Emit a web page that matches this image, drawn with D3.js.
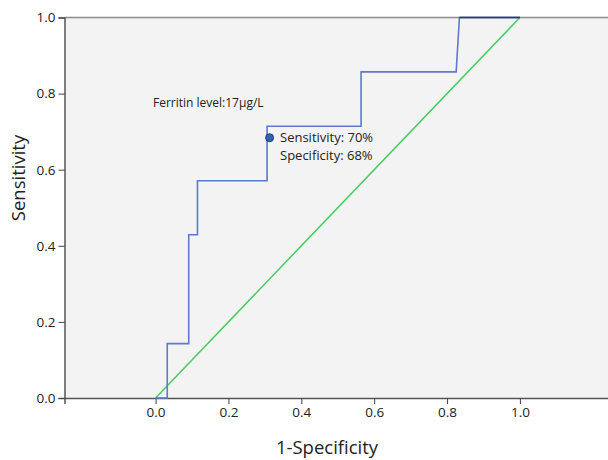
<!DOCTYPE html>
<html>
<head>
<meta charset="utf-8">
<script src="https://cdn.jsdelivr.net/npm/d3@7"></script>
<style>
  body { margin: 0; background: #fff; }
  svg { display: block; }
</style>
</head>
<body>
<svg id="chart" width="608" height="460"></svg>
<script>
// ROC curve points (1-specificity, sensitivity)
var rocX = [0, 0.032, 0.032, 0.091, 0.091, 0.115, 0.115, 0.306, 0.306, 0.564, 0.564, 0.825, 0.834, 1.0];
var rocY = [0, 0, 0.143, 0.143, 0.429, 0.429, 0.571, 0.571, 0.714, 0.714, 0.857, 0.857, 1.0, 1.0];
var refX = [0, 1];
var refY = [0, 1];
var cutX = [0.313];
var cutY = [0.684];
var xTicks = [0.0, 0.2, 0.4, 0.6, 0.8, 1.0];
var yTicks = [0.0, 0.2, 0.4, 0.6, 0.8, 1.0];
var cutLabel = "Ferritin level:17\u03bcg/L";
var cutStats = ["Sensitivity: 70%", "Specificity: 68%"];

var svg = d3.select("#chart");
var font = "'Open Sans', 'Noto Sans', sans-serif";

var x = d3.scaleLinear().domain([-0.25, 1.25]).range([64.5, 611]);
var y = d3.scaleLinear().domain([0, 1]).range([398, 17.5]);

// plot background
svg.append("rect")
  .attr("x", x(-0.25)).attr("y", y(1))
  .attr("width", x(1.25) - x(-0.25)).attr("height", y(0) - y(1))
  .attr("fill", "#f3f3f3");

// frame line on top
svg.append("line")
  .attr("x1", x(-0.25)).attr("x2", 608).attr("y1", y(1)).attr("y2", y(1))
  .attr("stroke", "#8c8c8c").attr("stroke-width", 1.5);

var xAxis = svg.append("g")
  .attr("transform", "translate(0," + y(0) + ")")
  .call(d3.axisBottom(x).tickValues(xTicks).tickFormat(d3.format(".1f")).tickSize(6).tickPadding(3));
var yAxis = svg.append("g")
  .attr("transform", "translate(" + x(-0.25) + ",0)")
  .call(d3.axisLeft(y).tickValues(yTicks).tickFormat(d3.format(".1f")).tickSize(6).tickPadding(3));

[xAxis, yAxis].forEach(function (g) {
  g.select(".domain").attr("stroke", "#555").attr("stroke-width", 1.5);
  g.selectAll(".tick line").attr("stroke", "#444");
  g.selectAll(".tick text")
    .attr("fill", "#222")
    .style("font-family", font)
    .style("font-size", "13.5px");
});

// reference diagonal
svg.append("path")
  .datum(d3.zip(refX, refY))
  .attr("d", d3.line().x(d => x(d[0])).y(d => y(d[1])))
  .attr("fill", "none")
  .attr("stroke", "#45cc5e")
  .attr("stroke-width", 1.5);

// ROC curve
svg.append("path")
  .datum(d3.zip(rocX, rocY))
  .attr("d", d3.line().x(d => x(d[0])).y(d => y(d[1])))
  .attr("fill", "none")
  .attr("stroke", "#5f78d0")
  .attr("stroke-width", 1.6);

// overlapping top segment appears darker
svg.append("line")
  .attr("x1", x(0.834)).attr("x2", x(1)).attr("y1", y(1)).attr("y2", y(1))
  .attr("stroke", "#2b3a72").attr("stroke-width", 1.5);

// cut-off point
svg.selectAll(".cut")
  .data(d3.zip(cutX, cutY))
  .enter().append("circle")
  .attr("class", "cut")
  .attr("cx", d => x(d[0]))
  .attr("cy", d => y(d[1]))
  .attr("r", 4)
  .attr("fill", "#3064ad")
  .attr("stroke", "#1d3f78")
  .attr("stroke-width", 1);

svg.append("text")
  .attr("x", 153).attr("y", 107)
  .style("font-family", font).style("font-size", "12px")
  .attr("fill", "#222")
  .text(cutLabel);

svg.selectAll(".stat")
  .data(cutStats)
  .enter().append("text")
  .attr("class", "stat")
  .attr("x", 280)
  .attr("y", (d, i) => 142 + i * 18)
  .style("font-family", font).style("font-size", "13px")
  .attr("fill", "#222")
  .text(d => d);

// axis titles
svg.append("text")
  .attr("x", 327).attr("y", 454)
  .attr("text-anchor", "middle")
  .style("font-family", font).style("font-size", "18.5px")
  .attr("fill", "#222")
  .text("1-Specificity");

svg.append("text")
  .attr("transform", "translate(25," + 178 + ") rotate(-90)")
  .attr("text-anchor", "middle")
  .style("font-family", font).style("font-size", "18.5px")
  .attr("fill", "#222")
  .text("Sensitivity");
</script>
</body>
</html>
